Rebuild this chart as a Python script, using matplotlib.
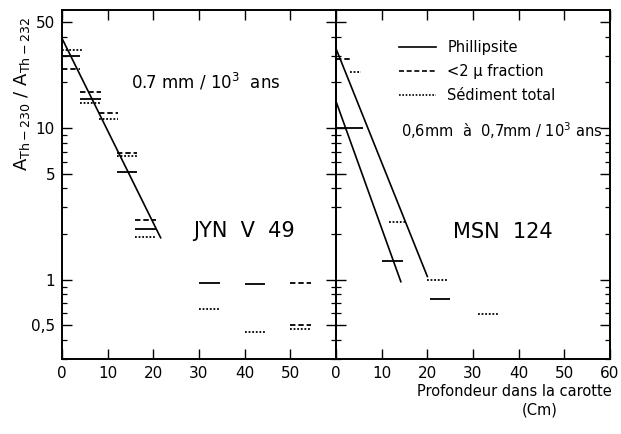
import matplotlib
matplotlib.use("Agg")
import matplotlib.pyplot as plt
from matplotlib.lines import Line2D
from matplotlib.ticker import FixedLocator, NullFormatter

plt.rcParams['font.family'] = ['DejaVu Sans']

# ---------------- data: JYN V 49 ----------------
jyn_phil_top = [0, 4, 12, 16, 30, 40]
jyn_phil_bot = [4, 8.5, 16.5, 20.5, 34.5, 44.5]
jyn_phil_val = [29.9, 15.6, 5.1, 2.17, 0.95, 0.94]

jyn_frac_top = [0, 4, 8, 12, 16, 50, 50]
jyn_frac_bot = [4, 8.5, 12.3, 16.5, 20.5, 54.5, 54.5]
jyn_frac_val = [24.5, 17.3, 12.6, 6.85, 2.48, 0.95, 0.50]

jyn_tot_top = [0, 4, 8, 12, 16, 30, 40, 50]
jyn_tot_bot = [4.3, 8.5, 12.3, 16.5, 20.5, 34.5, 44.5, 54.5]
jyn_tot_val = [32.7, 14.7, 11.5, 6.54, 1.92, 0.64, 0.45, 0.475]

jyn_fit_depth = [0, 21.6]
jyn_fit_val = [39, 1.89]

# ---------------- data: MSN 124 ----------------
msn_phil_top = [0, 10, 20.5]
msn_phil_bot = [6, 14.7, 25]
msn_phil_val = [10, 1.33, 0.75]

msn_frac_top = [0]
msn_frac_bot = [3]
msn_frac_val = [28.5]

msn_tot_top = [3, 11.5, 20, 31]
msn_tot_bot = [5.5, 15, 24.5, 35.5]
msn_tot_val = [23.5, 2.4, 1.0, 0.59]

msn_fit1_depth = [0, 20]
msn_fit1_val = [33.4, 1.05]
msn_fit2_depth = [0, 14.2]
msn_fit2_val = [15.0, 0.97]

ytick_vals = [0.5, 1, 5, 10, 50]
ytick_labels = ["0,5", "1", "5", "10", "50"]
yminor_vals = [0.3, 0.4, 0.6, 0.7, 0.8, 0.9, 2, 3, 4, 6, 7, 8, 9, 20, 30, 40]

DASH = (0, (3.0, 1.6))
DOT = (0, (1.0, 1.0))

fig = plt.figure(figsize=(6.21, 4.34), dpi=100)
ax1 = fig.add_axes([62/621, 1-359/434, 274/621, 349/434])
ax2 = fig.add_axes([336/621, 1-359/434, 274/621, 349/434])

def bars(ax, top, bot, val, ls):
    for t, b, v in zip(top, bot, val):
        ax.plot([t, b], [v, v], color='black', lw=1.3, ls=ls, solid_capstyle='butt')

for ax in (ax1, ax2):
    ax.set_yscale('log')
    ax.set_ylim(0.3, 60)
    ax.set_xlim(0, 60)
    ax.yaxis.set_major_locator(FixedLocator(ytick_vals))
    ax.yaxis.set_minor_locator(FixedLocator(yminor_vals))
    ax.yaxis.set_minor_formatter(NullFormatter())
    ax.tick_params(axis='both', which='major', direction='in', length=7, width=1.0,
                   top=True, right=True, labelsize=11, pad=5)
    ax.tick_params(axis='both', which='minor', direction='in', length=3.5, width=0.9,
                   top=True, right=True)
    for s in ax.spines.values():
        s.set_linewidth(1.4)
    ax.patch.set_alpha(0)

ax1.set_xticks([0, 10, 20, 30, 40, 50])
ax1.set_yticklabels(ytick_labels)
ax2.set_xticks([0, 10, 20, 30, 40, 50, 60])
ax2.tick_params(axis='y', labelleft=False)

# JYN V 49
bars(ax1, jyn_phil_top, jyn_phil_bot, jyn_phil_val, '-')
bars(ax1, jyn_frac_top, jyn_frac_bot, jyn_frac_val, DASH)
bars(ax1, jyn_tot_top, jyn_tot_bot, jyn_tot_val, DOT)
ax1.plot(jyn_fit_depth, jyn_fit_val, color='black', lw=1.2)

# MSN 124
bars(ax2, msn_phil_top, msn_phil_bot, msn_phil_val, '-')
bars(ax2, msn_frac_top, msn_frac_bot, msn_frac_val, DASH)
bars(ax2, msn_tot_top, msn_tot_bot, msn_tot_val, DOT)
ax2.plot(msn_fit1_depth, msn_fit1_val, color='black', lw=1.2)
ax2.plot(msn_fit2_depth, msn_fit2_val, color='black', lw=1.2)

# texts
ax1.text(0.526, 0.794, "0.7 mm / 10$^3$  ans", transform=ax1.transAxes,
         ha='center', va='center', fontsize=12)
ax1.text(0.665, 0.367, "JYN  V  49", transform=ax1.transAxes,
         ha='center', va='center', fontsize=15)
ax2.text(0.61, 0.364, "MSN  124", transform=ax2.transAxes,
         ha='center', va='center', fontsize=15)
ax2.text(0.605, 0.653, "0,6mm  à  0,7mm / 10$^3$ ans", transform=ax2.transAxes,
         ha='center', va='center', fontsize=10.5)

handles = [Line2D([], [], color='black', lw=1.2, ls='-'),
           Line2D([], [], color='black', lw=1.2, ls=DASH),
           Line2D([], [], color='black', lw=1.2, ls=DOT)]
labels = ["Phillipsite", "<2 µ fraction", "Sédiment total"]
ax2.legend(handles, labels, loc='upper left', bbox_to_anchor=(0.21, 0.93),
           frameon=False, fontsize=10.5, handlelength=2.5, handletextpad=0.8,
           labelspacing=0.62, borderaxespad=0)

fig.text(22/621, 1-94/434, "A$_{\\rm Th-230}$ / A$_{\\rm Th-232}$", rotation=90,
         ha='center', va='center', fontsize=13)
fig.text(514/621, 1-392/434, "Profondeur dans la carotte", ha='center',
         va='center', fontsize=10.5)
fig.text(540/621, 1-410/434, "(Cm)", ha='center', va='center', fontsize=10.5)

fig.savefig("out.png", dpi=100)
